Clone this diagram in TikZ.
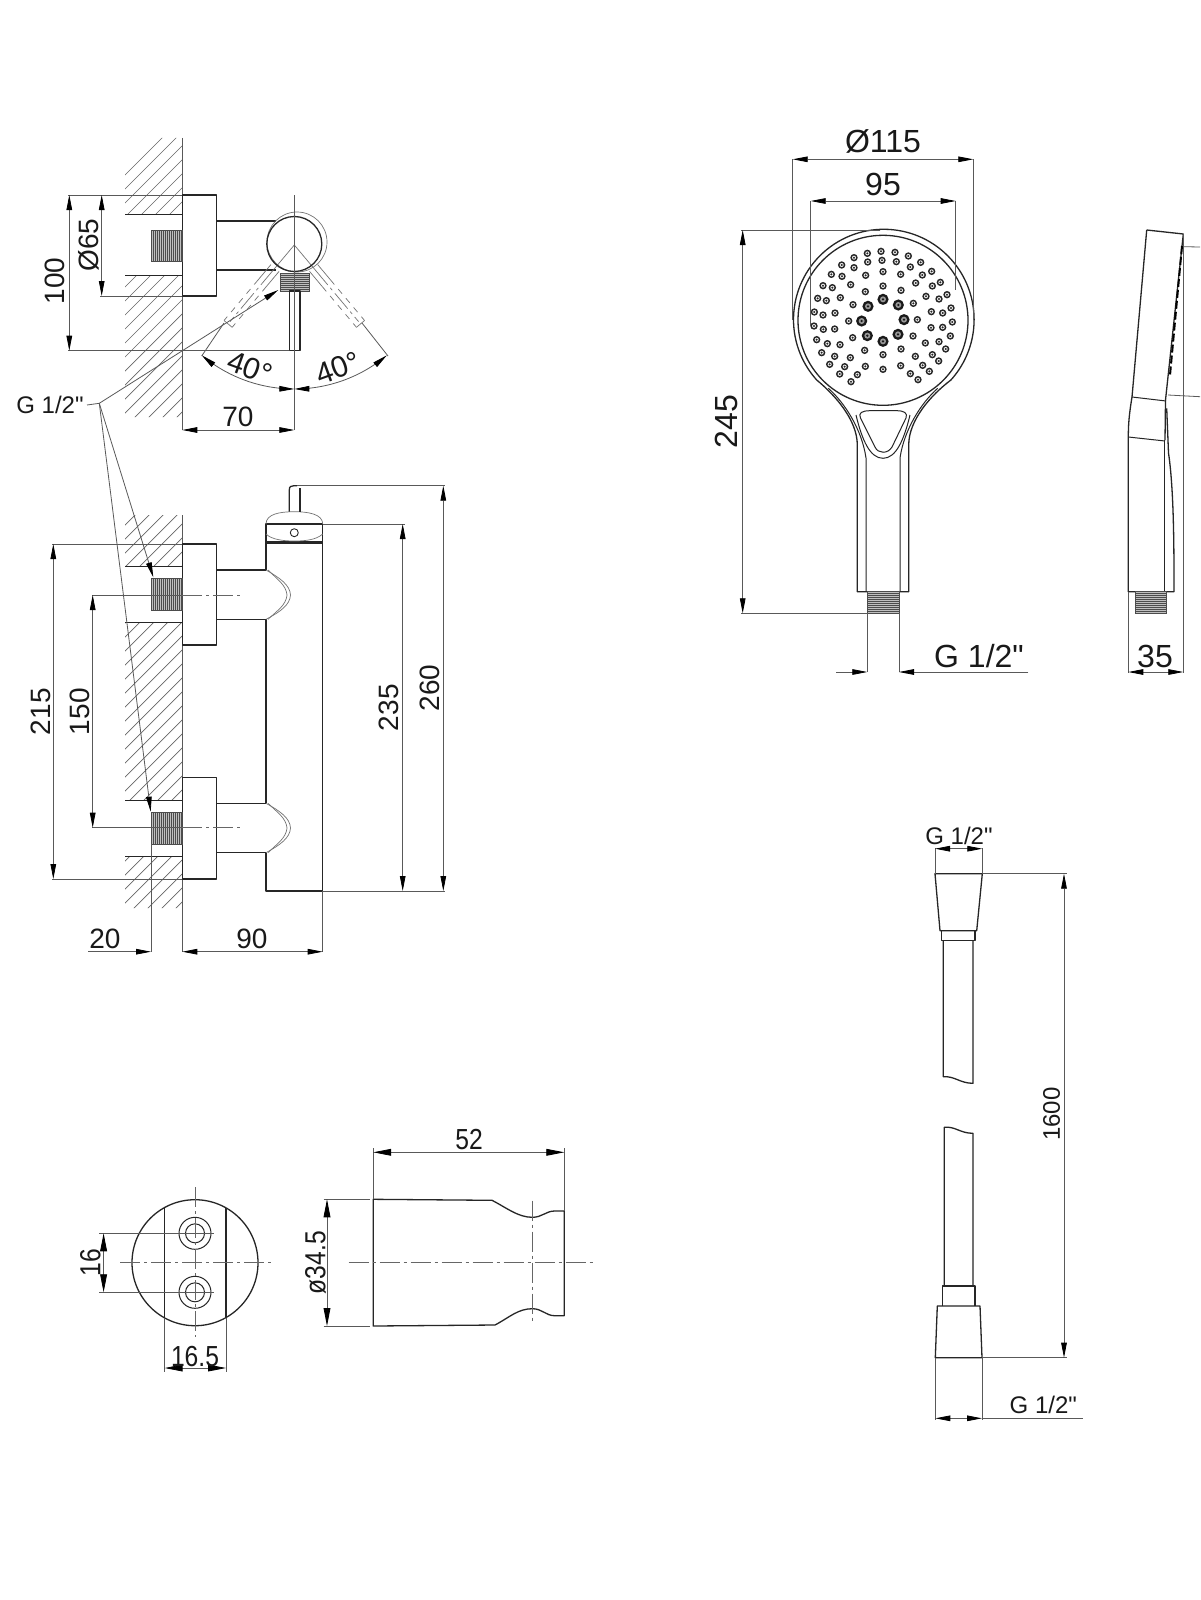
\documentclass[tikz,border=0pt]{standalone}
\usepackage{fontspec}
\setmainfont{Liberation Sans}
\newfontfamily\plainf{Liberation Sans}
\usetikzlibrary{arrows.meta}
\tikzset{
  obj/.style={draw=black!85,line width=0.65pt,line join=round},
  ghost/.style={draw=black!55,line width=0.35pt},
  thinl/.style={draw=black!65,line width=0.4pt},
  cl/.style={draw=black!60,line width=0.35pt,dash pattern=on 10pt off 2pt on 1.5pt off 2pt},
  dimboth/.style={thinl,arrows={Triangle[length=7.5pt,width=2.8pt,black]-Triangle[length=7.5pt,width=2.8pt,black]}},
  dimto/.style={thinl,arrows={-Triangle[length=7.5pt,width=2.8pt,black]}},
  dimbig/.style={thinl,arrows={Triangle[length=9pt,width=3.4pt,black]-Triangle[length=9pt,width=3.4pt,black]}},
  hatchl/.style={draw=black!60,line width=0.35pt},
  lblA/.style={font=\fontsize{14pt}{15pt}\plainf,inner sep=0pt,text=black!90},
  lblE/.style={font=\fontsize{15pt}{16pt}\plainf,inner sep=0pt,text=black!90},
  lblB/.style={font=\fontsize{16pt}{17pt}\plainf,inner sep=0pt,text=black!90},
  lblC/.style={font=\fontsize{12pt}{13pt}\plainf,inner sep=0pt,text=black!90},
  lblD/.style={font=\fontsize{14.5pt}{15pt}\plainf,inner sep=0pt,text=black!90,xscale=0.85,transform shape},
}
\newcommand{\thrH}[4]{% horizontal thread lines
  \begin{scope}
    \clip (#1,#2) rectangle (#3,#4);
    \fill[black!25] (#1,#2) rectangle (#3,#4);
    \foreach \t in {0,...,20}{\draw[black!70,line width=0.25pt] (#1,{#2+\t*2}) -- (#3,{#2+\t*2});}
  \end{scope}
  \draw[black!70,line width=0.35pt] (#1,#2) rectangle (#3,#4);}
\newcommand{\thrV}[4]{% vertical thread lines
  \begin{scope}
    \clip (#1,#2) rectangle (#3,#4);
    \fill[black!25] (#1,#2) rectangle (#3,#4);
    \foreach \t in {0,...,20}{\draw[black!70,line width=0.25pt] ({#1+\t*2},#2) -- ({#1+\t*2},#4);}
  \end{scope}
  \draw[black!70,line width=0.35pt] (#1,#2) rectangle (#3,#4);}
\begin{document}
\begin{tikzpicture}[x=0.5pt,y=-0.5pt]
\useasboundingbox (0,0) rectangle (1200,1600);
\fill[white] (0,0) rectangle (1200,1600);

% ---------- hatching
\begin{scope}
  \clip (125,138) rectangle (182,214.5) (125,275) rectangle (182,417)
        (125,515) rectangle (182,566.7) (125,622.3) rectangle (182,800.7) (125,856.7) rectangle (182,908);
  \foreach \c in {200,214,...,1200}{\draw[hatchl] (100,\c) -- (220,{\c-120});}
\end{scope}
\draw[thinl] (182.3,138) -- (182.3,430) (182.3,515) -- (182.3,952);
\draw[obj,line width=0.45pt] (125,214.5) -- (182,214.5) (125,275) -- (182,275)
   (125,566.7) -- (182,566.7) (125,622.3) -- (182,622.3) (125,800.7) -- (182,800.7) (125,856.7) -- (182,856.7);

% ---------- top view
\draw[obj] (182.3,195) rectangle (216.7,296);
\thrV{151}{230}{182}{261}
\draw[obj] (216.7,221) -- (276,221) (216.7,270) -- (276,270);
\foreach \a in {-40,40}{
  \begin{scope}[shift={(294.3,245)},rotate=\a]
    \draw[ghost] (0,0) -- (0,32);
    \draw[ghost] (-5.3,30) -- (-5.3,50) (5.3,30) -- (5.3,50);
    \draw[ghost,dashed] (-5.3,50) -- (-5.3,103) (5.3,50) -- (5.3,103);
    \draw[ghost] (-5.3,103) -- (5.3,103);
    \draw[ghost,dash pattern=on 10pt off 2pt on 1.5pt off 2pt] (0,32) -- (0,100);
  \end{scope}}
\draw[ghost] (297,242) circle[radius=30];
\draw[obj] (294.3,244) circle[radius=27.5];
\thrH{280.7}{273}{309.3}{291}
\draw[obj] (289.3,291) rectangle (300,350.7);
\draw[thinl] (294.3,195) -- (294.3,430);
\draw[thinl] (68,195) -- (182.3,195) (100,296) -- (182.3,296) (68,350.7) -- (289.3,350.7);
\draw[dimboth] (69.3,195) -- (69.3,350.7);
\draw[dimboth] (101.7,195) -- (101.7,296);
\draw[dimboth] (182.3,430) -- (294.3,430);
\node[lblA,rotate=90] (t100) at (55,281) {100};
\node[lblA,rotate=90] (t65) at (89,245) {Ø65};
\node[lblA] (t70) at (238,417) {70};
\node[lblE,rotate=-20] (t40a) at (250,368) {40°};
\node[lblE,rotate=20] (t40b) at (338,368) {40°};
\draw[thinl] (224,323) -- (201.7,356) (362,323) -- (388,356);
\draw[dimboth]
  plot[domain=-40:0,samples=25] ({294.3+144*sin(\x)},{245+144*cos(\x)});
\draw[dimboth]
  plot[domain=40:0,samples=25] ({294.3+144*sin(\x)},{245+144*cos(\x)});

% ---------- G 1/2 leader
\node[lblC] (tg) at (50,405) {G 1/2"};
\coordinate (gk) at (99.3,403.3);
\draw[thinl] (tg.east) ++(3,0) -- (gk);
\draw[dimto] (gk) -- (278.3,290);
\draw[dimto] (gk) -- (153.3,577.3);
\draw[dimto] (gk) -- (150.7,811.7);

% ---------- side view
\draw[obj] (182.3,544) rectangle (216.7,645);
\draw[obj] (182.3,777.7) rectangle (216.7,879);
\thrV{151}{578}{182}{610}
\thrV{151}{812.7}{182}{844}
\draw[obj] (216.7,570) -- (266,570) (216.7,619.3) -- (266,619.3)
           (216.7,803.3) -- (266,803.3) (216.7,852.7) -- (266,852.7);
\draw[obj] (266,543.3) -- (266,570) (266,619.3) -- (266,803.3) (266,852.7) -- (266,891) -- (322.7,891) -- (322.7,524);
\draw[obj] (266,524) rectangle (322.7,543.3);
\draw[obj] (266,542) -- (322.7,542);
\draw[ghost] (266,570) .. controls (280,578) and (290,585) .. (290.5,595) .. controls (290,605) and (280,612) .. (266,619.3);
\draw[ghost] (268,570) .. controls (278,580) and (286,585) .. (287,595) .. controls (286,605) and (278,610) .. (268,619.3);
\draw[ghost] (266,803.3) .. controls (280,811) and (290,818) .. (290.5,828) .. controls (290,838) and (280,845) .. (266,852.7);
\draw[ghost] (268,803.3) .. controls (278,813) and (286,818) .. (287,828) .. controls (286,838) and (278,843) .. (268,852.7);
\draw[ghost] (266,524) .. controls (266,514) and (280,511.7) .. (294.3,511.7) .. controls (308,511.7) and (322.7,514) .. (322.7,524);
\draw[ghost] (266,534) .. controls (272,540) and (285,541) .. (294.3,541) .. controls (305,541) and (316,540) .. (322.7,534);
\draw[obj,line width=0.45pt] (294.3,532.7) circle[radius=4];
\draw[obj] (289.3,511.7) -- (289.3,490) .. controls (289.3,486.5) and (291,485.7) .. (294,485.7) -- (297,485.7);
\draw[obj] (300,511.7) -- (300,488);
\draw[thinl] (297,485.7) -- (445,485.7) (322.7,524) -- (405,524) (322.7,891) -- (445,891);
\draw[thinl] (52,544) -- (182.3,544) (52,879) -- (182.3,879);
\draw[thinl] (92,595) -- (182,595) (92,827.7) -- (182,827.7);
\draw[cl] (182,595) -- (243,595) (182,827.7) -- (243,827.7);
\draw[dimboth] (443.3,485.7) -- (443.3,891);
\draw[dimboth] (402.7,524) -- (402.7,891);
\draw[dimboth] (53.3,544) -- (53.3,879);
\draw[dimboth] (92.7,595) -- (92.7,827.7);
\draw[thinl] (151,844) -- (151,952) (322.7,891) -- (322.7,952);
\draw[dimto] (88,951.7) -- (151,951.7);
\draw[dimboth] (182.3,951.7) -- (322.7,951.7);
\node[lblA,rotate=90] (t260) at (430,688) {260};
\node[lblA,rotate=90] (t235) at (389,707.7) {235};
\node[lblA,rotate=90] (t215) at (40.7,711.7) {215};
\node[lblA,rotate=90] (t150) at (80,711.7) {150};
\node[lblA] (t20) at (105,939) {20};
\node[lblA] (t90) at (252,939) {90};

% ---------- shower head front
\draw[obj] (816.7,380) arc[start angle=138,end angle=402,radius=90.3]
  .. controls (931,395) and (908.7,420) .. (908.7,445) -- (908.7,591.7) -- (857.3,591.7) -- (857.3,445)
  .. controls (857.3,420) and (835,395) .. (816.7,380);
\draw[obj] (883,320.3) circle[radius=85];
\draw[obj,line width=0.5pt] (828.3,388.3) .. controls (845,403) and (862,430) .. (866,458) -- (866,591.7);
\draw[obj,line width=0.5pt] (937.7,388.3) .. controls (921,403) and (904,430) .. (900,458) -- (900,591.7);
\draw[obj,line width=0.5pt] (856,415) .. controls (862,440) and (870,458.3) .. (883,458.3) .. controls (896,458.3) and (904,440) .. (910,415);
\draw[obj,line width=0.5pt] (870,410.7) -- (896.7,410.7) .. controls (904,410.7) and (908,413) .. (906,418) -- (892,447)
  .. controls (888,454) and (878,454) .. (875,447) -- (860.5,418) .. controls (858,413) and (862,410.7) .. (870,410.7) -- cycle;
\thrH{867.3}{591.7}{899}{613.3}
\foreach \p/\q in {202/40,243/34,285/37,325/48,362/67,395/94,421/127,441/164,453/204,457/246,451/288,437/327,416/363,388/394,354/419,331/401,368/376,397/344,417/305,428/262,428/219,417/177,397/138,367/105,331/81,289/65,246/61,203/66,162/53,125/75,94/103,69/137,53/175,43/216,42/258,50/299,65/338,89/373,119/402,153/425,172/404,134/380,104/349,82/311,70/268,69/225,79/182,97/143,126/109,162/83,197/106,249/95,302/103,347/129,378/169,394/215,393/263,376/309,346/349,302/377,249/388,196/379,151/353,120/314,104/267,105/219,121/173,152/134,196/155,249/138,303/151,340/190,352/239,339/288,303/327,249/344,194/331,158/293,146/243,159/194}{
  \fill[black!85] ({800+\p/3},{240+\q/3}) circle[radius=3.7];
  \fill[black!5] ({800+\p/3},{240+\q/3}) circle[radius=2];
  \fill[black!85] ({800+\p/3},{240+\q/3}) circle[radius=1.1];
}
\foreach \p/\q in {204/199,249/178,295/195,312/239,294/283,249/304,202/287,185/243}{
  \fill[black!90] ({800+\p/3},{240+\q/3}) circle[radius=5.6];
  \fill[black!40] ({800+\p/3},{240+\q/3}) circle[radius=3];
  \fill[black!90] ({800+\p/3},{240+\q/3}) circle[radius=1.3];
}
\draw[thinl] (792.7,159) -- (792.7,320) (973.3,159) -- (973.3,320);
\draw[thinl] (810.7,201) -- (810.7,326) (955.7,201) -- (955.7,290);
\draw[dimboth] (792.7,159.3) -- (973.3,159.3);
\draw[dimboth] (810.7,201) -- (955.7,201);
\draw[thinl] (741,230) -- (880,230) (741,613.3) -- (867.3,613.3);
\draw[dimboth] (742.7,230) -- (742.7,613.3);
\draw[thinl] (867.3,613.3) -- (867.3,672) (899,613.3) -- (899,672);
\draw[dimto] (836,672) -- (867.3,672);
\draw[dimto] (1028.3,672) -- (899,672);
\node[lblB] (t115) at (883,141.7) {Ø115};
\node[lblB] (t95) at (883,184) {95};
\node[lblB,rotate=90] (t245) at (726,421.7) {245};
\node[lblB] (tg2) at (979,656) {G 1/2"};

% ---------- shower head side
\draw[obj] (1146.7,230) -- (1183.3,234) -- (1165.5,400) -- (1165,440);
\draw[obj] (1146.7,230) -- (1132,397) .. controls (1129,415) and (1128.3,425) .. (1128.3,437) -- (1128.3,591.7) -- (1174,591.7)
   .. controls (1174,550) and (1174,490) .. (1168.5,453) -- (1166.7,408.3);
\draw[obj,line width=0.5pt] (1164.3,440) -- (1164.3,591.7);
\draw[obj,line width=0.5pt] (1132,397) -- (1166,401) (1128.3,437) -- (1165,441);
\draw[black,line width=1pt,dash pattern=on 4pt off 1.5pt] (1182,246) -- (1170,375);
\draw[thinl] (1183.3,234) -- (1183.3,673) (1128.3,591.7) -- (1128.3,673);
\draw[thinl] (1183.3,246.7) -- (1200,247) (1168,395) -- (1200,396.7);
\thrH{1135}{591.7}{1166.7}{613.3}
\draw[dimboth] (1128.3,672) -- (1183.3,672);
\node[lblB] (t35) at (1155,656) {35};

% ---------- holder
\draw[obj] (195,1262.7) circle[radius=63];
\draw[obj] (164.6,1207.9) -- (164.6,1317.5) (226,1207.9) -- (226,1317.5);
\draw[thinl] (164.6,1317.5) -- (164.6,1371.7) (226,1317.5) -- (226,1371.7);
\foreach \cy in {1233.3,1292.3}{
  \draw[obj,line width=0.5pt] (195,\cy) circle[radius=16];
  \draw[obj,line width=0.5pt] (195,\cy) circle[radius=9.5];
  \draw[thinl,line width=0.3pt] (176,\cy) -- (214,\cy);
}
\draw[cl] (195,1187.3) -- (195,1336.7);
\draw[cl] (120,1262.7) -- (271.4,1262.7);
\draw[thinl] (99,1233.3) -- (179,1233.3) (99,1292.3) -- (179,1292.3);
\draw[dimbig] (103.6,1233.3) -- (103.6,1292.3);
\draw[dimbig] (164.6,1368) -- (226,1368);
\node[lblD] (t165) at (195,1356) {16.5};
\node[rotate=90,lblD] (t16) at (90.4,1262.7) {16};
\draw[obj] (373.2,1199.3) -- (492,1200.3) .. controls (507,1208) and (518,1217.3) .. (532.5,1217.3)
  .. controls (542,1217.3) and (546,1211) .. (554.6,1211) -- (564.3,1211) -- (564.3,1315.7) -- (554.6,1315.7)
  .. controls (546,1315.7) and (542,1308.7) .. (532.5,1308.7) .. controls (518,1308.7) and (510,1317) .. (495,1325)
  -- (373.2,1326) -- cycle;
\draw[cl] (348.6,1262.7) -- (594,1262.7);
\draw[cl] (532.5,1200.7) -- (532.5,1323.3);
\draw[thinl] (373.2,1148) -- (373.2,1199.3) (564.3,1148) -- (564.3,1211);
\draw[thinl] (323.6,1199.3) -- (370,1199.3) (323.6,1326) -- (370,1326);
\draw[dimbig] (373.2,1152.3) -- (564.3,1152.3);
\draw[dimbig] (327,1199.3) -- (327,1326);
\node[lblD] (t52) at (469,1140) {52};
\node[rotate=90,lblD] (t345) at (315.4,1262.7) {ø34.5};

% ---------- hose
\draw[obj] (935,873.7) -- (982.3,873.7) -- (976.7,930.7) -- (940,930.7) -- cycle;
\draw[obj] (941.7,930.7) rectangle (975,940.7);
\draw[obj] (943.3,940.7) -- (943.3,1076.7) .. controls (955,1076) and (960,1083.3) .. (973,1083.3) -- (973,940.7);
\draw[obj] (944.3,1286) -- (944.3,1127.3) .. controls (955,1126) and (960,1133.3) .. (973,1133.3) -- (973,1286);
\draw[obj] (942.7,1306) -- (942.7,1286) -- (975,1286) -- (975,1306);
\draw[obj] (937.3,1306) -- (980,1306) -- (982,1357.7) -- (935.3,1357.7) -- cycle;
\draw[thinl] (935,848) -- (935,873.7) (982.3,848) -- (982.3,873.7);
\draw[dimboth] (935,848.7) -- (982.3,848.7);
\draw[thinl] (982.3,873.7) -- (1066.7,873.7) (982,1357.7) -- (1066.7,1357.7);
\draw[dimboth] (1064,873.7) -- (1064,1357.7);
\draw[thinl] (935.3,1357.7) -- (935.3,1420) (982,1357.7) -- (982,1420);
\draw[dimboth] (935.3,1418.3) -- (982,1418.3);
\draw[thinl] (982,1418.3) -- (1082.7,1418.3);
\node[lblC] (tg3) at (959,836) {G 1/2"};
\node[lblC] (tg4) at (1043.3,1405) {G 1/2"};
\node[lblC,rotate=90] (t1600) at (1051.7,1114) {1600};
\end{tikzpicture}
\end{document}
